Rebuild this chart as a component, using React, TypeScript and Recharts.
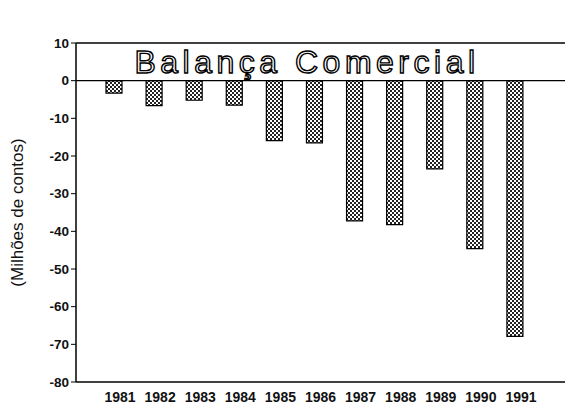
import { BarChart, Bar, XAxis, YAxis, ReferenceLine, Customized } from 'recharts';

const years = ['1981', '1982', '1983', '1984', '1985', '1986', '1987', '1988', '1989', '1990', '1991'];
const saldo = [-3.3, -6.6, -5.2, -6.5, -15.9, -16.5, -37.2, -38.2, -23.4, -44.6, -67.9];
const yTicks = [-80, -70, -60, -50, -40, -30, -20, -10, 0, 10];

const data = years.map((ano, i) => ({ ano, saldo: saldo[i] }));

const FONT = '"Liberation Sans", Arial, sans-serif';

// titulo com letras vazadas, como no original
const Titulo = () => (
  <text
    x={307}
    y={73}
    textAnchor="middle"
    fontFamily={FONT}
    fontSize={32}
    letterSpacing={4.5}
    fill="#ffffff"
    stroke="#000000"
    strokeWidth={1.4}
  >
    Balança Comercial
  </text>
);

export default function App() {
  return (
    <div style={{ position: 'absolute', left: 0, top: 0, background: '#fff' }}>
      <BarChart
        width={565}
        height={406}
        data={data}
        margin={{ top: 43, right: 0, bottom: 0, left: 0 }}
        barCategoryGap={0}
      >
        <defs>
          <pattern id="xadrez" width="4" height="4" patternUnits="userSpaceOnUse">
            <rect width="4" height="4" fill="#fff" />
            <rect x="0" y="0" width="2" height="2" fill="#222" />
            <rect x="2" y="2" width="2" height="2" fill="#222" />
          </pattern>
        </defs>
        <XAxis
          dataKey="ano"
          height={24}
          padding={{ left: 18, right: 30 }}
          axisLine={{ stroke: '#000', strokeWidth: 1.5 }}
          tickLine={false}
          tickSize={0}
          tickMargin={10}
          interval={0}
          tick={{ fill: '#111', fontSize: 14, fontWeight: 'bold', fontFamily: FONT, dx: 6 }}
        />
        <YAxis
          width={76}
          domain={[-80, 10]}
          ticks={yTicks}
          interval={0}
          axisLine={{ stroke: '#000', strokeWidth: 1.5 }}
          tickLine={{ stroke: '#000' }}
          tickSize={5}
          tickMargin={2}
          tick={{ fill: '#111', fontSize: 13.5, fontWeight: 'bold', fontFamily: FONT }}
          label={{
            value: '(Milhões de contos)',
            angle: -90,
            position: 'insideLeft',
            dx: 12,
            dy: 0,
            style: { fill: '#111', fontSize: 17, fontFamily: FONT, textAnchor: 'middle' },
          }}
        />
        <ReferenceLine y={10} stroke="#000" strokeWidth={1.5} />
        <ReferenceLine y={0} stroke="#000" strokeWidth={1.2} />
        <Bar
          dataKey="saldo"
          barSize={16}
          fill="url(#xadrez)"
          stroke="#000"
          strokeWidth={1.2}
          isAnimationActive={false}
        />
        <Customized component={Titulo} />
      </BarChart>
    </div>
  );
}
